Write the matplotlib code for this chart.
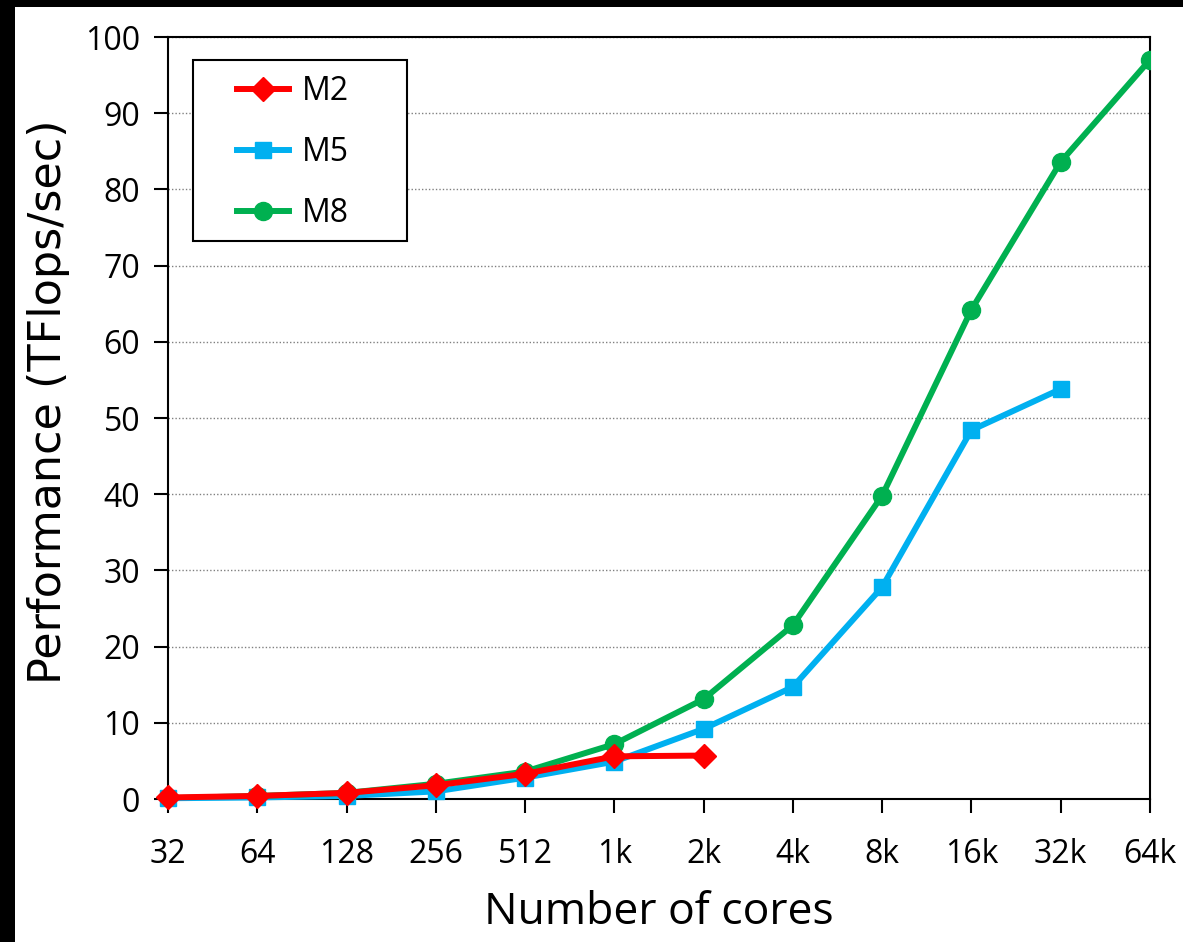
import numpy as np
import matplotlib.pyplot as plt
from matplotlib.patches import Rectangle

cores = ["32", "64", "128", "256", "512", "1k", "2k", "4k", "8k", "16k", "32k", "64k"]
m2 = [0.2, 0.4, 0.8, 1.8, 3.3, 5.6, 5.7]
m5 = [0.1, 0.2, 0.4, 1.0, 2.8, 4.9, 9.2, 14.7, 27.8, 48.4, 53.8]
m8 = [0.1, 0.4, 0.8, 2.0, 3.6, 7.2, 13.1, 22.8, 39.8, 64.2, 83.6, 97.0]

plt.rcParams['font.family'] = ['Open Sans', 'DejaVu Sans']

fig = plt.figure(figsize=(11.83, 9.42), dpi=100, facecolor="black")
fig.patches.append(Rectangle((15 / 1183, 0), 1, (942 - 7) / 942, transform=fig.transFigure,
                             facecolor="white", edgecolor="none", zorder=-10))
ax = fig.add_axes([0.142, 0.1518, 0.830, 0.8089])

x = np.arange(len(cores))
ax.plot(x[:len(m5)], m5, color="#00b0f0", lw=4.3, marker="s", ms=11, label="M5", clip_on=False, zorder=3)
ax.plot(x[:len(m8)], m8, color="#00b050", lw=4.3, marker="o", ms=13, label="M8", zorder=3)
ax.plot(x[:len(m2)], m2, color="#ff0000", lw=4.3, marker="D", ms=12, label="M2", clip_on=False, zorder=4)

ax.set_xlim(0, len(cores) - 1)
ax.set_ylim(0, 100)
ax.set_xticks(x)
ax.set_xticklabels(cores)
ax.set_yticks(np.arange(0, 101, 10))
ax.yaxis.grid(True, color="gray", linestyle=(0, (1, 1.5)), lw=1)
ax.set_axisbelow(True)
ax.tick_params(axis="both", direction="out", length=10, width=1.5, labelsize=23)
ax.tick_params(axis="x", pad=18)
ax.tick_params(axis="y", pad=10)
for s in ax.spines.values():
    s.set_linewidth(1.5)

ax.set_xlabel("Number of cores", fontsize=32, labelpad=14)
ax.set_ylabel("Performance (TFlops/sec)", fontsize=32, family=["DejaVu Sans"])
ax.yaxis.set_label_coords(-0.100, 0.521)

# legend box drawn separately so its padding matches the original
ax.add_patch(Rectangle((0.0255, 0.732), 0.2179, 0.238, transform=ax.transAxes,
                       facecolor="white", edgecolor="black", lw=1.5, zorder=5))
h, l = ax.get_legend_handles_labels()
order = [2, 0, 1]
leg = ax.legend([h[i] for i in order], [l[i] for i in order], loc="upper left",
                bbox_to_anchor=(0.070, 0.950), fontsize=23, frameon=False,
                borderpad=0, labelspacing=0.87, handlelength=1.65, handletextpad=0.4,
                borderaxespad=0)
leg.set_zorder(6)

fig.savefig("out.png", facecolor=fig.get_facecolor())
